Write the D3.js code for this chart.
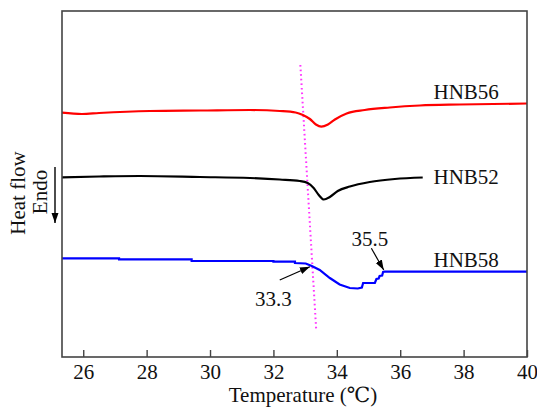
<!DOCTYPE html>
<html>
<head>
<meta charset="utf-8">
<script src="https://cdn.jsdelivr.net/npm/d3@7"></script>
<style>
  body { margin: 0; background: #fff; }
  svg text { font-family: "Liberation Serif", Tinos, "Times New Roman", Times, "DejaVu Serif", serif !important; }
</style>
</head>
<body>
<script>
// DSC traces (heat flow in arbitrary units)
const hnb56 = [
  [25.33, 24.43], [25.96, 24.3], [26.5, 24.4], [28.1, 24.6], [29.7, 24.65],
  [31.26, 24.7], [32.2, 24.6], [32.7, 24.45], [32.93, 24.2], [33.15, 23.8],
  [33.34, 23.25], [33.51, 23.03], [33.72, 23.25], [33.94, 23.75], [34.31, 24.35],
  [34.88, 24.7], [35.67, 24.95], [36.62, 25.15], [37.88, 25.25], [40.0, 25.35]
];
const hnb52 = [
  [25.33, 17.97], [26.5, 18.05], [27.79, 18.1], [29.68, 18.0], [31.26, 17.9],
  [32.2, 17.75], [32.83, 17.6], [33.08, 17.4], [33.27, 16.9], [33.43, 16.2],
  [33.59, 15.75], [33.78, 16.0], [34.03, 16.6], [34.41, 17.05], [35.04, 17.5],
  [35.83, 17.8], [36.71, 17.95]
];
const hnb58 = [
  [25.33, 9.87], [27.13, 9.87], [27.13, 9.77], [29.42, 9.77], [29.42, 9.6],
  [32.0, 9.6], [32.0, 9.53], [32.68, 9.53], [32.68, 9.4], [33.02, 9.35],
  [33.21, 9.1], [33.46, 8.7], [33.78, 7.9], [34.09, 7.25], [34.41, 6.9],
  [34.66, 6.85], [34.79, 6.95], [34.83, 7.4], [35.2, 7.4], [35.25, 7.8],
  [35.32, 7.85], [35.35, 8.1], [35.43, 8.15], [35.46, 8.5], [35.51, 8.53],
  [40.0, 8.53]
];
const seriesNames = ["HNB56", "HNB52", "HNB58"];
const seriesColors = ["#ff0000", "#000000", "#0000ff"];
const labelPos = [[37.05, 25.85], [37.05, 17.35], [37.05, 9.05]];
const xTicks = [26, 28, 30, 32, 34, 36, 38, 40];
const onsetLine = [[32.85, 29.2], [33.35, 2.7]];
// annotations: text, text position, arrow tail, arrow head
const notes = [
  { text: "33.3", at: [32.0, 5.1], from: [32.2, 7.7], to: [33.15, 9.03] },
  { text: "35.5", at: [35.04, 11.1], from: [35.09, 10.87], to: [35.48, 8.7] }
];

const width = 537, height = 408;
const mLeft = 62, mRight = 527, mTop = 11, mBottom = 357;
const fs = 21;
const serif = "'Liberation Serif', Tinos, 'Times New Roman', Times, 'DejaVu Serif', serif";

const svg = d3.select("body").append("svg")
    .attr("width", width)
    .attr("height", height)
    .attr("font-family", serif);

const defs = svg.append("defs");
defs.append("marker")
    .attr("id", "head")
    .attr("viewBox", "0 0 10 10")
    .attr("refX", 10).attr("refY", 5)
    .attr("markerWidth", 10).attr("markerHeight", 10)
    .attr("markerUnits", "userSpaceOnUse")
    .attr("orient", "auto")
    .append("path")
    .attr("d", "M0,1.5L10,5L0,8.5Z")
    .attr("fill", "#000");

const x = d3.scaleLinear().domain([25.33, 40]).range([mLeft, mRight]);
const y = d3.scaleLinear().domain([0, 34.6]).range([mBottom, mTop]);

const straight = d3.line()
    .x(d => x(d[0]))
    .y(d => y(d[1]));
const smooth = d3.line()
    .x(d => x(d[0]))
    .y(d => y(d[1]))
    .curve(d3.curveMonotoneX);

// onset guide
svg.append("path")
    .attr("d", straight(onsetLine))
    .attr("stroke", "#ff33ff")
    .attr("stroke-width", 2)
    .attr("stroke-dasharray", "1.6,3")
    .attr("fill", "none");

// curves
[hnb56, hnb52, hnb58].forEach((s, i) => {
  svg.append("path")
      .attr("d", (i === 2 ? straight : smooth)(s))
      .attr("stroke", seriesColors[i])
      .attr("stroke-width", 2.2)
      .attr("fill", "none");

  svg.append("text")
      .attr("x", x(labelPos[i][0]))
      .attr("y", y(labelPos[i][1]))
      .attr("font-size", fs)
      .attr("fill", "#111")
      .text(seriesNames[i]);
});

// annotations
notes.forEach(n => {
  svg.append("line")
      .attr("x1", x(n.from[0])).attr("y1", y(n.from[1]))
      .attr("x2", x(n.to[0])).attr("y2", y(n.to[1]))
      .attr("stroke", "#000")
      .attr("stroke-width", 1.2)
      .attr("marker-end", "url(#head)");
  svg.append("text")
      .attr("x", x(n.at[0]))
      .attr("y", y(n.at[1]))
      .attr("text-anchor", "middle")
      .attr("font-size", fs)
      .attr("fill", "#111")
      .text(n.text);
});

// frame
svg.append("rect")
    .attr("x", mLeft).attr("y", mTop)
    .attr("width", mRight - mLeft).attr("height", mBottom - mTop)
    .attr("fill", "none")
    .attr("stroke", "#444")
    .attr("stroke-width", 1.6);

// x axis, ticks pointing inward
const gx = svg.append("g")
    .attr("transform", `translate(0,${mBottom})`)
    .call(d3.axisBottom(x).tickValues(xTicks).tickSize(-7).tickPadding(7));
gx.attr("font-family", serif).attr("font-size", fs);
gx.select(".domain").remove();
gx.selectAll(".tick line").attr("stroke", "#444").attr("stroke-width", 1.4);
gx.selectAll(".tick text").attr("fill", "#111");

svg.append("text")
    .attr("x", 303)
    .attr("y", 402)
    .attr("text-anchor", "middle")
    .attr("font-size", fs)
    .attr("fill", "#111")
    .text("Temperature (℃)");

// y label with endo arrow
svg.append("text")
    .attr("transform", "translate(25,193) rotate(-90)")
    .attr("text-anchor", "middle")
    .attr("font-size", fs)
    .attr("fill", "#111")
    .text("Heat flow");
svg.append("text")
    .attr("transform", "translate(47,192) rotate(-90)")
    .attr("text-anchor", "middle")
    .attr("font-size", fs)
    .attr("fill", "#111")
    .text("Endo");
svg.append("line")
    .attr("x1", 55).attr("y1", 167)
    .attr("x2", 55).attr("y2", 223)
    .attr("stroke", "#000")
    .attr("stroke-width", 1.4)
    .attr("marker-end", "url(#head)");
</script>
</body>
</html>
